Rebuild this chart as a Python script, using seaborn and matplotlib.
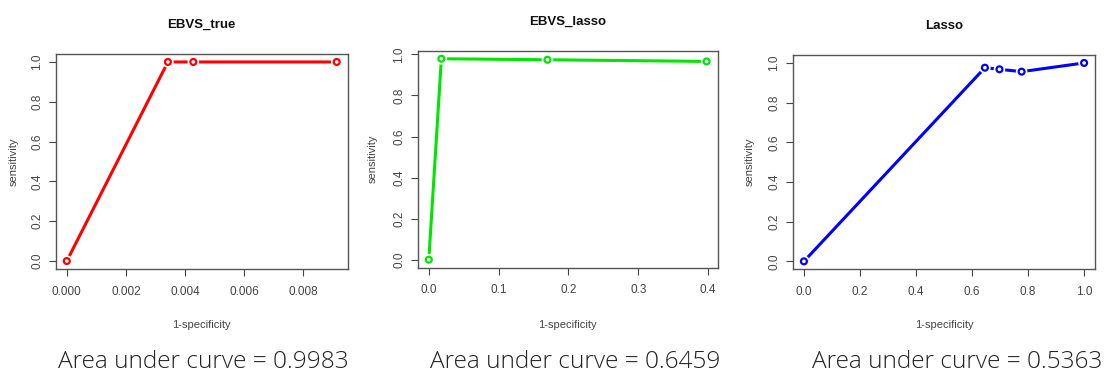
import matplotlib
matplotlib.use("Agg")
import matplotlib.pyplot as plt
import seaborn as sns
import pandas as pd
import numpy as np

# ---- data ----
titles = ["EBVS_true", "EBVS_lasso", "Lasso"]
fpr_true = [0.0, 0.00342, 0.00428, 0.00913]
tpr_true = [0.0, 1.0, 1.0, 1.0]
fpr_ebl = [0.0, 0.018, 0.170, 0.398]
tpr_ebl = [0.0, 0.979, 0.974, 0.966]
fpr_las = [0.0, 0.646, 0.698, 0.777, 1.0]
tpr_las = [0.0, 0.976, 0.968, 0.956, 1.0]
aucs = ["0.9983", "0.6459", "0.5363"]
xticks_list = [[0.000, 0.002, 0.004, 0.006, 0.008],
               [0.0, 0.1, 0.2, 0.3, 0.4],
               [0.0, 0.2, 0.4, 0.6, 0.8, 1.0]]
xticklabels_list = [["0.000", "0.002", "0.004", "0.006", "0.008"],
                    ["0.0", "0.1", "0.2", "0.3", "0.4"],
                    ["0.0", "0.2", "0.4", "0.6", "0.8", "1.0"]]
yticks = [0.0, 0.2, 0.4, 0.6, 0.8, 1.0]
yticklabels = ["0.0", "0.2", "0.4", "0.6", "0.8", "1.0"]
colors = ["#ff0000", "#00e600", "#0000ff"]

series = [(fpr_true, tpr_true), (fpr_ebl, tpr_ebl), (fpr_las, tpr_las)]

sns.set_theme(style="white")
plt.rcParams['font.family'] = ['Liberation Sans', 'DejaVu Sans']

fig = plt.figure(figsize=(11.08, 3.73), dpi=100)
W, H = 1108, 373
# axes boxes in pixels: left, top, right, bottom
boxes = [(56, 54, 347.5, 269), (417.7, 50.7, 717.7, 267.7), (792.7, 55, 1095.3, 269.3)]
ylab_x = [14, 373, 749.3]
xlab_y = [325, 325, 325]
auc_cx = [203, 575, 957]

for i, ((x, y), box) in enumerate(zip(series, boxes)):
    l, t, r, b = box
    ax = fig.add_axes([l / W, 1 - b / H, (r - l) / W, (b - t) / H])
    df = pd.DataFrame({"x": x, "y": y})
    c = colors[i]
    sns.lineplot(data=df, x="x", y="y", ax=ax, color=c, lw=2.2, sort=False, zorder=2)
    sns.scatterplot(data=df, x="x", y="y", ax=ax, color="white", s=70,
                    edgecolor="none", linewidth=0, zorder=3)
    sns.scatterplot(data=df, x="x", y="y", ax=ax, facecolor="none",
                    edgecolor=c, s=18, linewidth=1.6, marker="o", zorder=4)
    xr = max(x) - min(x)
    yr = max(y) - min(y)
    ax.set_xlim(min(x) - 0.04 * xr, max(x) + 0.04 * xr)
    ax.set_ylim(min(y) - 0.04 * yr, max(y) + 0.04 * yr)
    ax.set_xticks(xticks_list[i])
    ax.set_xticklabels(xticklabels_list[i])
    ax.set_yticks(yticks)
    ax.set_yticklabels(yticklabels, rotation=90, va="center")
    ax.tick_params(axis="both", which="both", direction="out", length=5,
                   width=0.8, color="#444444", labelsize=8.5, labelcolor="#444444",
                   bottom=True, left=True)
    ax.tick_params(axis="x", pad=7)
    ax.tick_params(axis="y", pad=4)
    for sp in ax.spines.values():
        sp.set_color("#555555")
        sp.set_linewidth(1.0)
    ax.set_title(titles[i], fontsize=9.5, fontweight="bold", pad=19, color="#111111")
    ax.set_xlabel("1-specificity", fontsize=8, color="#444444")
    ax.set_ylabel("sensitivity", fontsize=8, color="#444444")
    ax.xaxis.set_label_coords(0.5, -(xlab_y[i] - b) / (b - t))
    ax.yaxis.set_label_coords((ylab_x[i] - l) / (r - l), 0.5)
    ax.xaxis.label.set_va("center")
    ax.yaxis.label.set_va("center")
    fig.text(auc_cx[i] / W, 1 - 362 / H, "Area under curve = " + aucs[i],
             ha="center", va="center", fontsize=17.6, color="#222222",
             family=["Open Sans", "DejaVu Sans"], fontweight="light")

fig.savefig("out.png", dpi=100)
